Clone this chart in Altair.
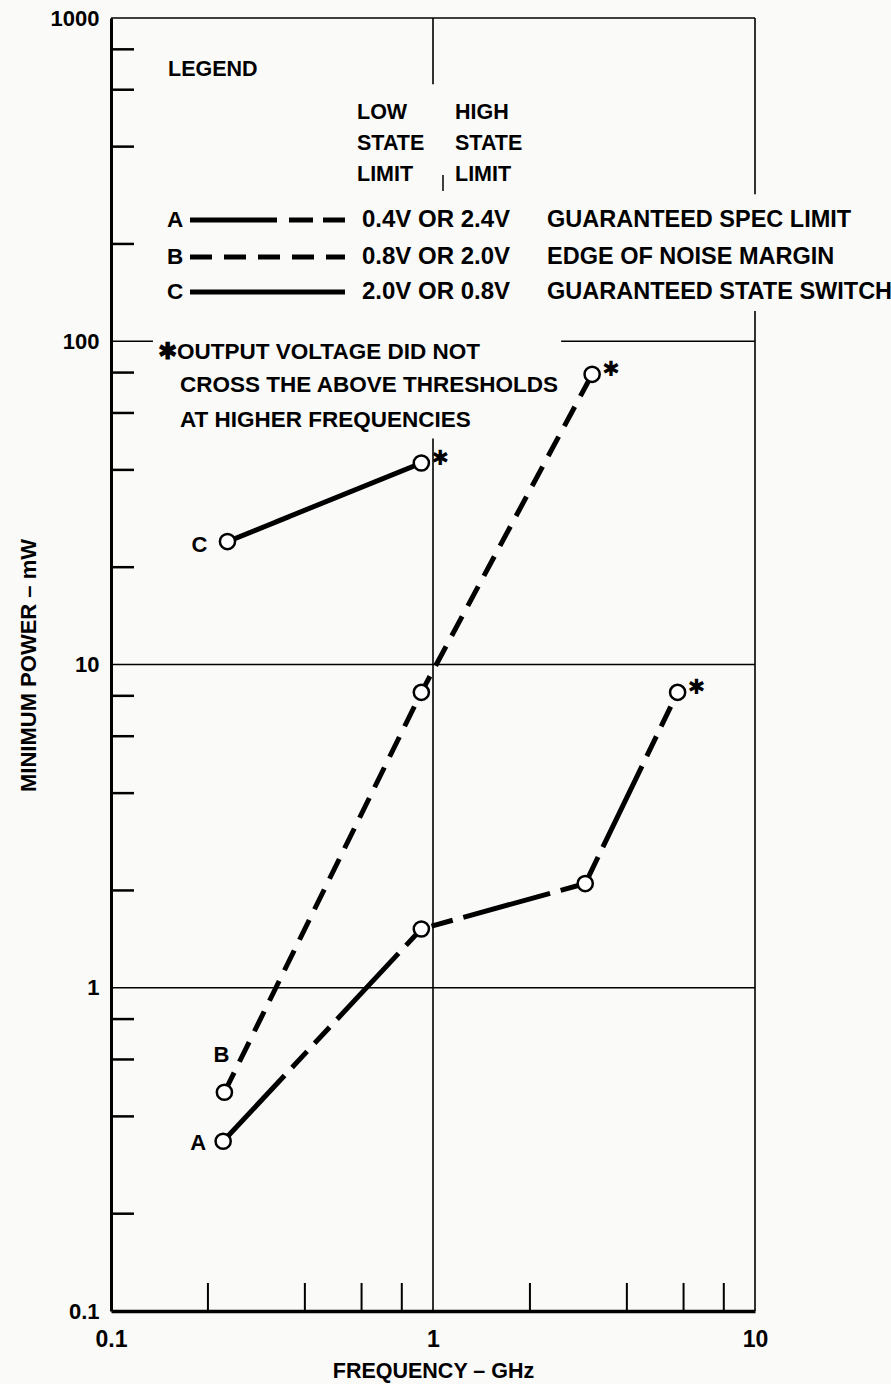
import altair as alt
import pandas as pd

# ---------------- data ----------------
series = ["A", "A", "A", "A", "B", "B", "B", "C", "C"]
freq_ghz = [0.223, 0.92, 2.97, 5.75, 0.225, 0.92, 3.12, 0.23, 0.92]
power_mw = [0.335, 1.52, 2.1, 8.2, 0.475, 8.2, 79.0, 24.0, 42.0]
beyond = [False, False, False, True, False, False, True, False, True]

x_major = [0.1, 1, 10]
y_major = [0.1, 1, 10, 100, 1000]
minor_mult = [2, 4, 6, 8]
x_minor = [m * 10 ** d for d in (-1, 0) for m in minor_mult]
y_minor = [m * 10 ** d for d in (-1, 0, 1, 2) for m in minor_mult]

# frame / grid segments (in data units; gaps where the legend text sits)
seg_x1 = [0.1, 10, 10, 1, 1, 0.1, 2.5, 0.1, 0.1]
seg_x2 = [10, 10, 10, 1, 1, 0.135, 10, 10, 10]
seg_y1 = [1000, 1000, 124, 1000, 50, 100, 100, 10, 1]
seg_y2 = [1000, 285, 0.1, 624, 0.1, 100, 100, 10, 1]

legend_rows = ["A", "B", "C"]
legend_low_high = ["0.4V OR 2.4V", "0.8V OR 2.0V", "2.0V OR 0.8V"]
legend_meaning = ["GUARANTEED SPEC LIMIT", "EDGE OF NOISE MARGIN", "GUARANTEED STATE SWITCH"]

# ---------------- tables ----------------
pts = pd.DataFrame({"series": series, "f": freq_ghz, "p": power_mw, "beyond": beyond})
frame = pd.DataFrame({"x1": seg_x1, "x2": seg_x2, "y1": seg_y1, "y2": seg_y2})
xmin_df = pd.DataFrame({"v": x_minor})
ymin_df = pd.DataFrame({"v": y_minor})

FONT = "Liberation Sans"
W, H = 644, 1293

xscale = alt.Scale(type="log", domain=[0.1, 10], nice=False)
yscale = alt.Scale(type="log", domain=[0.1, 1000], nice=False)

xaxis = alt.Axis(values=x_major, format="~g", title="FREQUENCY – GHz", grid=False,
                 ticks=False, tickSize=0, domainColor="black", domainWidth=3.5,
                 labelFontSize=23, labelFont=FONT, labelFontWeight="bold", labelColor="black",
                 labelPadding=17, labelFlush=False, labelOverlap=False,
                 titleFontSize=21.5, titleFont=FONT, titleFontWeight="bold", titleColor="black",
                 titleY=60, titleBaseline="middle")
yaxis = alt.Axis(values=y_major, format="~g", title="MINIMUM POWER – mW", grid=False,
                 ticks=False, tickSize=0, domainColor="black", domainWidth=3,
                 labelFontSize=22, labelFont=FONT, labelFontWeight="bold", labelColor="black",
                 labelPadding=12, labelFlush=False, labelOverlap=False,
                 titleFontSize=22, titleFont=FONT, titleFontWeight="bold", titleColor="black",
                 titleX=-83, titleY=647, titleAngle=270, titleAlign="center", titleBaseline="middle")


def X(field):
    return alt.X(field, type="quantitative", scale=xscale, axis=xaxis)


def Y(field):
    return alt.Y(field, type="quantitative", scale=yscale, axis=yaxis)


grid = alt.Chart(frame).mark_rule(color="black", strokeWidth=1.6).encode(
    x=X("x1"), x2="x2", y=Y("y1"), y2="y2")

yticks = alt.Chart(ymin_df).mark_rule(color="black", strokeWidth=2.5).encode(
    y=Y("v"), x=alt.value(0), x2=alt.value(23))
xticks = alt.Chart(xmin_df).mark_rule(color="black", strokeWidth=2).encode(
    x=X("v"), y=alt.value(H), y2=alt.value(H - 28))

dash = {"A": [90, 11, 22, 11, 22, 11], "B": [22, 12], "C": [1, 0]}
lines = []
for s in ["A", "B", "C"]:
    lines.append(
        alt.Chart(pts).transform_filter(alt.datum.series == s)
        .mark_line(color="black", strokeWidth=5, strokeDash=dash[s], strokeCap="butt")
        .encode(x=X("f"), y=Y("p"), order="f:Q")
    )

points = alt.Chart(pts).mark_point(shape="circle", filled=True, fill="white", stroke="black",
                                   strokeWidth=2.5, size=230, opacity=1).encode(
    x=X("f"), y=Y("p"))

stars = alt.Chart(pts).transform_filter(alt.datum.beyond).mark_text(
    text="✱", fontSize=21, fontWeight="bold", dx=19, dy=-4, color="black",
    font="DejaVu Sans").encode(x=X("f"), y=Y("p"))

lab_off = {"A": (-25, 2), "B": (-3, -37), "C": (-28, 3)}
labels = []
for s in ["A", "B", "C"]:
    dx, dy = lab_off[s]
    labels.append(
        alt.Chart(pts).transform_filter(alt.datum.series == s)
        .transform_aggregate(f="min(f)", p="argmin(f)", groupby=["series"])
        .transform_calculate(pp="datum.p.p")
        .mark_text(fontSize=22, font=FONT, fontWeight="bold", dx=dx, dy=dy, color="black")
        .encode(x=X("f"), y=Y("pp"), text="series:N")
    )

# ---------------- legend block (inside the plot, top-left) ----------------
def txt(s, x, y, size=22.5, align="left", lh=31):
    return alt.Chart(pd.DataFrame({"t": [s]})).mark_text(
        fontSize=size, font=FONT, fontWeight="bold", align=align, baseline="middle",
        color="black", lineBreak="\n", lineHeight=lh).encode(
        text="t:N", x=alt.value(x), y=alt.value(y))


def hrule(x1, x2, y, dsh=None):
    kw = dict(color="black", strokeWidth=5, strokeCap="butt")
    if dsh:
        kw["strokeDash"] = dsh
    return alt.Chart(pd.DataFrame({"a": [0]})).mark_rule(**kw).encode(
        x=alt.value(x1), x2=alt.value(x2), y=alt.value(y))


legend = [
    txt("LEGEND", 57, 52, size=21.5),
    txt("LOW\nSTATE\nLIMIT", 246, 95, size=21.5, lh=31),
    txt("HIGH\nSTATE\nLIMIT", 344, 95, size=21.5, lh=31),
    alt.Chart(pd.DataFrame({"a": [0]})).mark_rule(color="black", strokeWidth=1.5).encode(
        x=alt.value(332), y=alt.value(157), y2=alt.value(173)),
]
row_y = [202, 239, 274]
for i, r in enumerate(legend_rows):
    legend.append(txt(r, 56, row_y[i]))
    legend.append(txt(legend_low_high[i], 251, row_y[i], size=24))
    legend.append(txt(legend_meaning[i], 436, row_y[i], size=23.5))
legend.append(hrule(79, 166, row_y[0]))
legend.append(hrule(178, 234, row_y[0], [24, 10]))
legend.append(hrule(79, 234, row_y[1], [22, 12]))
legend.append(hrule(79, 234, row_y[2]))
legend.append(txt("✱OUTPUT VOLTAGE DID NOT", 47, 334))
legend.append(txt("CROSS THE ABOVE THRESHOLDS\nAT HIGHER FREQUENCIES", 69, 367, lh=35))

chart = alt.layer(grid, yticks, xticks, *lines, points, stars, *labels, *legend).properties(
    width=W, height=H,
    autosize=alt.AutoSizeParams(type="none"),
    padding={"left": 111, "top": 18, "right": 891 - 111 - W, "bottom": 1384 - 18 - H},
    background="#fafaf9",
).configure_view(stroke=None)

chart.save("out.html", embed_options={"renderer": "svg", "actions": False})
